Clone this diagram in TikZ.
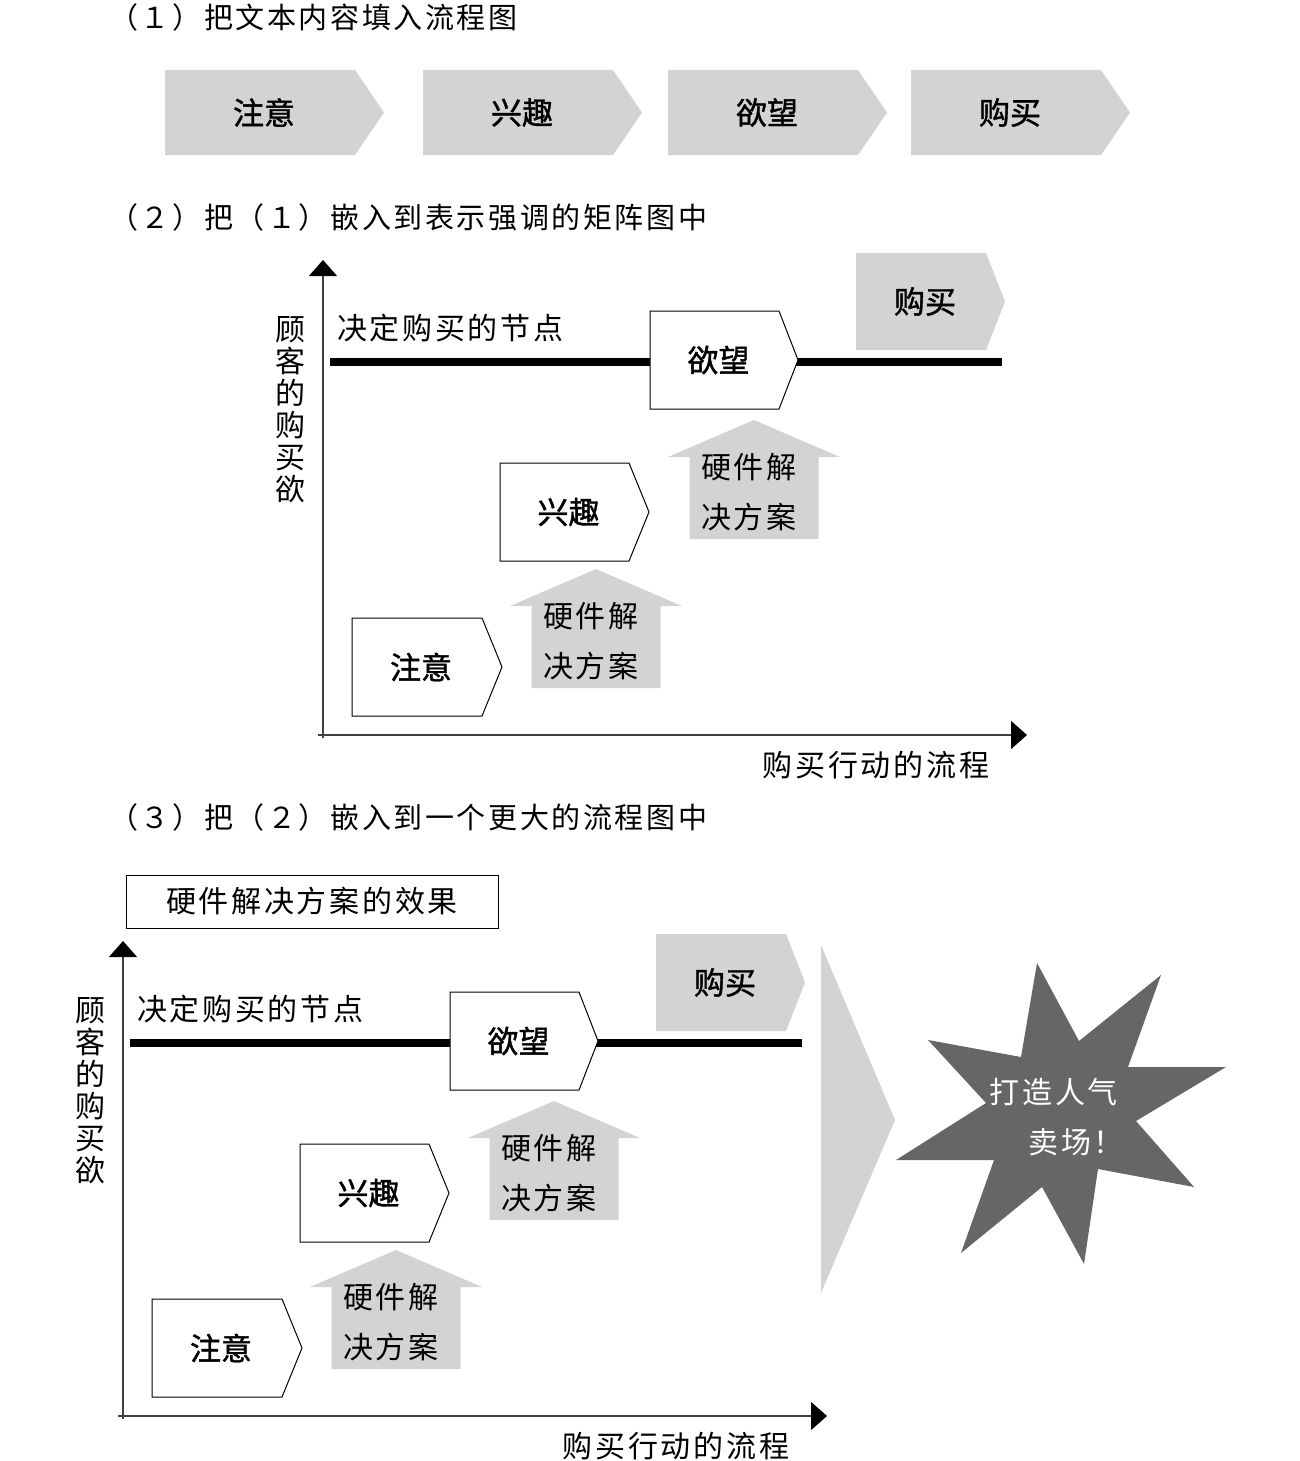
\documentclass[tikz,border=0pt]{standalone}
\usepackage{fontspec}
\usetikzlibrary{arrows.meta}
\newfontfamily\cjk{Noto Sans CJK SC}[LetterSpace=9]
\newfontfamily\cjkb{Noto Sans CJK SC}[FakeBold=1.3]
\definecolor{lgray}{HTML}{D3D3D3}
\definecolor{dgray}{HTML}{666666}
\tikzset{
  lbl/.style={font=\cjkb\fontsize{31}{34}\selectfont, inner sep=0},
  txt/.style={font=\cjk\fontsize{30}{50}\selectfont, inner sep=0},
  headtxt/.style={font=\cjk\fontsize{29}{30}\selectfont, inner sep=0, anchor=west},
  graychev/.style={fill=lgray, draw=none},
  whitechev/.style={fill=white, draw=black, line width=1pt},
  axisline/.style={draw=black!75, line width=1.2pt},
  axtip/.style={-{Triangle[width=28pt,length=16pt,color=black]}},
}
% name, x left, y top, body width, height, tip, style, text
\newcommand\mychev[8]{%
  \draw[#7] (#2,#3) -- ++(#4,0) -- ++(#6,{#5/2}) -- ++(-#6,{#5/2}) -- ++(-#4,0) -- cycle;
  \node[lbl] (#1) at ({#2+#4/2+4},{#3+#5/2}) {#8};}
% name, centre x, tip y
\newcommand\myuparr[3]{%
  \fill[lgray] (#2,#3) -- ({#2+86},{#3+37}) -- ({#2+64.5},{#3+37}) -- ({#2+64.5},{#3+119})
     -- ({#2-64.5},{#3+119}) -- ({#2-64.5},{#3+37}) -- ({#2-86},{#3+37}) -- cycle;
  \node[txt, align=center] (#1) at ({#2-5},{#3+72}) {硬件解\\决方案};}
\newcommand\matfig{%
  \coordinate (yb) at (323,738);
  \coordinate (yt) at (323,260);
  \coordinate (xl) at (318,735);
  \coordinate (xr) at (1027,735);
  \draw[axisline, axtip] (yb) -- (yt);
  \draw[axisline, axtip] (xl) -- (xr);
  \node[txt, align=center, font=\cjk\fontsize{30}{32}\selectfont] (ylab) at (290,410) {顾\\客\\的\\购\\买\\欲};
  \node[txt] (xlab) at (876,765) {购买行动的流程};
  \node[txt, anchor=west] (dlab) at (337,328) {决定购买的节点};
  \coordinate (tl) at (330,362);
  \coordinate (tr) at (1002,362);
  \draw[line width=8pt] (tl) -- (tr);
  \mychev{buy}{856}{253}{130}{97}{19}{graychev}{购买}
  \mychev{want}{650}{311}{129}{98}{19}{whitechev}{欲望}
  \mychev{int}{500}{463}{129}{98}{20}{whitechev}{兴趣}
  \mychev{att}{352}{618}{130}{98}{20}{whitechev}{注意}
  \myuparr{hw1}{596}{569}
  \myuparr{hw2}{754}{420}
}
\begin{document}
\begin{tikzpicture}[x=1pt, y=-1pt]
\useasboundingbox (0,0) rectangle (1300,1461);
\fill[white] (0,0) rectangle (1300,1461);
% (1)
\node[headtxt] (h1) at (109,17) {（１）把文本内容填入流程图};
\mychev{c1}{165}{70}{190}{85}{29}{graychev}{注意}
\mychev{c2}{423}{70}{190}{85}{29}{graychev}{兴趣}
\mychev{c3}{668}{70}{190}{85}{29}{graychev}{欲望}
\mychev{c4}{911}{70}{190}{85}{29}{graychev}{购买}
% (2)
\node[headtxt] (h2) at (109,217) {（２）把（１）嵌入到表示强调的矩阵图中};
\begin{scope}[name prefix=ma-]
\matfig
\end{scope}
% (3)
\node[headtxt] (h3) at (109,817) {（３）把（２）嵌入到一个更大的流程图中};
\node[txt, draw, line width=0.9pt, minimum width=372pt, minimum height=53pt] (eff) at (312,901.5) {硬件解决方案的效果};
\begin{scope}[shift={(-200,681)}, name prefix=mb-]
\matfig
\end{scope}
% big chevron
\fill[lgray] (821,945) -- (895,1120) -- (821,1293) -- cycle;
% star
\fill[dgray] (928,1040) -- (1021,1057) -- (1037,963) -- (1079,1041) -- (1161,975) -- (1128,1067)
  -- (1226,1067) -- (1136,1121) -- (1194,1187) -- (1098,1169) -- (1084,1264) -- (1042,1187)
  -- (961,1253) -- (994,1160) -- (896,1160) -- (986,1103) -- cycle;
\node[txt, text=white, anchor=east] (s1) at (1118,1092) {打造人气};
\node[txt, text=white, anchor=east] (s2) at (1124,1142) {卖场！};
\end{tikzpicture}
\end{document}
